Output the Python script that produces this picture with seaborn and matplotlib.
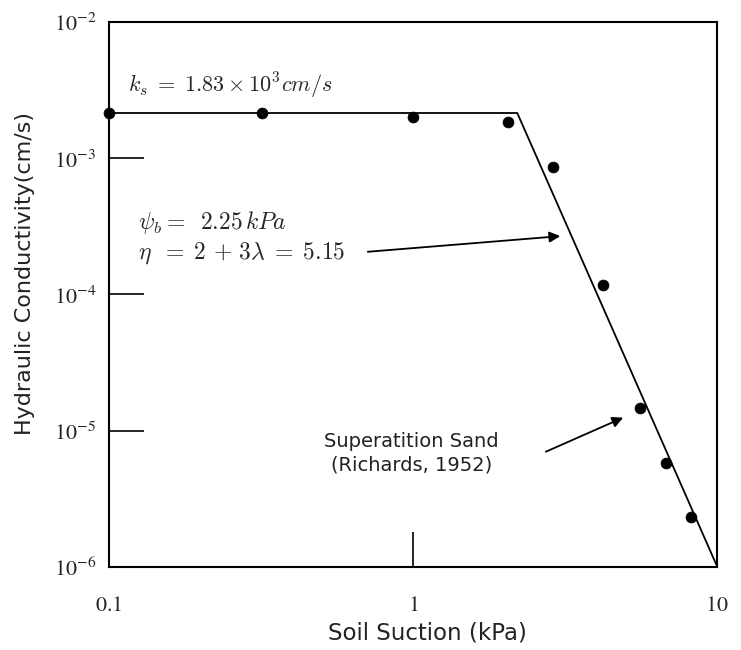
import numpy as np
import pandas as pd
import seaborn as sns
import matplotlib.pyplot as plt
from matplotlib.ticker import FixedLocator, FixedFormatter, NullLocator


# ----------------------------------------
# DATA
# ----------------------------------------

# measured points (Richards, 1952)
suction = [0.1, 0.318, 1.0, 2.05, 2.89, 4.22, 5.58, 6.79, 8.21]
conductivity = [2.15e-3, 2.15e-3, 2.01e-3, 1.85e-3, 8.6e-4, 1.17e-4, 1.47e-5, 5.8e-6, 2.33e-6]

# fitted model: k = ks below psi_b, then falls with slope eta
fit_suction = [0.1, 2.2, 10.0]
fit_conductivity = [2.15e-3, 2.15e-3, 1.0e-6]

x_ticks = [0.1, 1, 10]
x_labels = [r"$0.1$", r"$1$", r"$10$"]
y_ticks = [1e-6, 1e-5, 1e-4, 1e-3, 1e-2]
y_labels = [r"$10^{-6}$", r"$10^{-5}$", r"$10^{-4}$", r"$10^{-3}$", r"$10^{-2}$"]

df_pts = pd.DataFrame({"suction": suction, "k": conductivity})
df_fit = pd.DataFrame({"suction": fit_suction, "k": fit_conductivity})


# ----------------------------------------
# PLOT
# ----------------------------------------

sns.set_style("white")
plt.rcParams["font.family"] = ["DejaVu Sans"]
plt.rcParams["mathtext.fontset"] = "stix"

fig = plt.figure(figsize=(7.41, 6.5), dpi=100)
ax = fig.add_axes([0.147, 0.128, 0.821, 0.838])

sns.lineplot(data=df_fit, x="suction", y="k", color="black", linewidth=1.3,
             sort=False, ax=ax)
sns.scatterplot(data=df_pts, x="suction", y="k", color="black", s=60,
                edgecolor="black", zorder=5, clip_on=False, ax=ax)

ax.set_xscale("log")
ax.set_yscale("log")
ax.set_xlim(0.1, 10)
ax.set_ylim(1e-6, 1e-2)

ax.xaxis.set_major_locator(FixedLocator(x_ticks))
ax.xaxis.set_major_formatter(FixedFormatter(x_labels))
ax.xaxis.set_minor_locator(NullLocator())
ax.yaxis.set_major_locator(FixedLocator(y_ticks))
ax.yaxis.set_major_formatter(FixedFormatter(y_labels))
ax.yaxis.set_minor_locator(NullLocator())

ax.tick_params(axis="both", direction="in", length=25, width=1.2, color="black",
               labelsize=16, bottom=True, left=True)
ax.tick_params(axis="x", pad=20)
ax.tick_params(axis="y", pad=9)

for sp in ax.spines.values():
    sp.set_visible(True)
    sp.set_color("black")
    sp.set_linewidth(1.5)

ax.set_xlabel("Soil Suction (kPa)", fontsize=16.5, color="#222222")
ax.set_ylabel("Hydraulic Conductivity(cm/s)", fontsize=16, color="#222222")
ax.xaxis.set_label_coords(0.524, -0.101)
ax.yaxis.set_label_coords(-0.122, 0.539)

# annotations
ax.text(0.031, 0.883, r"$k_s\;=\;1.83\times10^3 cm/s$", fontsize=16,
        math_fontfamily="cm", transform=ax.transAxes, va="center")
ax.text(0.048, 0.633, r"$\psi_b=\;\;2.25\,kPa$", fontsize=17,
        math_fontfamily="cm", transform=ax.transAxes, va="center")
ax.text(0.048, 0.576, r"$\eta\;\;=\;2\,+\,3\lambda\;=\;5.15$", fontsize=17,
        math_fontfamily="cm", transform=ax.transAxes, va="center")
ax.annotate("", xy=(3.11, 2.69e-4), xytext=(0.695, 2.05e-4),
            arrowprops=dict(arrowstyle="-|>", color="black", lw=1.3,
                            mutation_scale=16))

ax.text(0.497, 0.208, "Superatition Sand\n(Richards, 1952)", fontsize=14,
        ha="center", va="center", transform=ax.transAxes, linespacing=1.3,
        color="#222222")
ax.annotate("", xy=(5.0, 1.27e-5), xytext=(2.68, 6.87e-6),
            arrowprops=dict(arrowstyle="-|>", color="black", lw=1.3,
                            mutation_scale=16))

fig.savefig("out.png", dpi=100)
